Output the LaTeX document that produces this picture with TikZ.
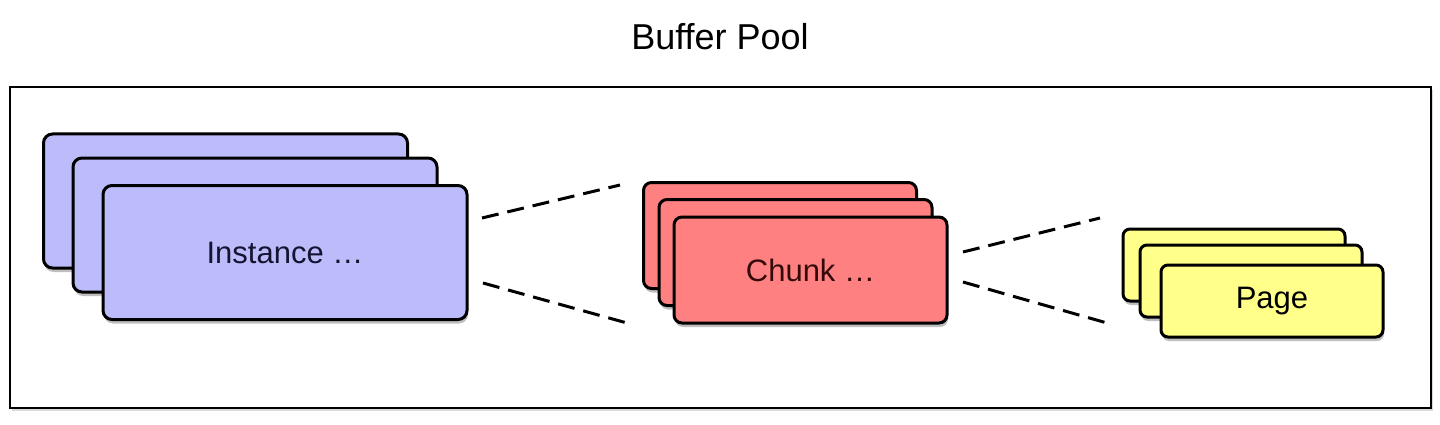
\documentclass[tikz,border=0pt]{standalone}
\usepackage{fontspec}
\setmainfont{Liberation Sans}
\usetikzlibrary{shadows}
\definecolor{instfill}{RGB}{188,188,250}
\definecolor{chunkfill}{RGB}{255,128,128}
\definecolor{pagefill}{RGB}{255,255,138}
\definecolor{insttext}{RGB}{20,20,50}
\definecolor{chunktext}{RGB}{50,10,10}
\tikzset{
  card/.style={draw=black, line width=3pt, rounded corners=9pt, inner sep=0pt,
    drop shadow={shadow xshift=1pt, shadow yshift=-4pt, opacity=0.25, fill=black}},
  instcard/.style={card, fill=instfill, minimum width=364pt, minimum height=134pt, text=insttext},
  chunkcard/.style={card, fill=chunkfill, minimum width=273pt, minimum height=106pt, text=chunktext, rounded corners=8pt},
  pagecard/.style={card, fill=pagefill, minimum width=222pt, minimum height=72pt, text=black, rounded corners=7pt},
  cardlabel/.style={font=\fontsize{31}{36}\selectfont},
  link/.style={draw=black, line width=3pt, dash pattern=on 17pt off 9pt},
  frame/.style={draw=black, line width=2.5pt, fill=white,
    drop shadow={shadow xshift=2pt, shadow yshift=-3pt, opacity=0.15, fill=black}}
}
\begin{document}
\begin{tikzpicture}[x=1pt,y=-1pt]
\useasboundingbox (0,0) rectangle (1440,425);
\node[font=\fontsize{36}{42}\selectfont] (title) at (720,37) {Buffer Pool};
\draw[frame] (10,87) rectangle (1431,408);
% Instances
\node[instcard] (inst1) at (225.5,201) {};
\node[instcard] (inst2) at (255,225) {};
\node[instcard, cardlabel] (inst3) at (285,252.5) {Instance …};
% Chunks
\node[chunkcard] (chunk1) at (780,235.5) {};
\node[chunkcard] (chunk2) at (795.5,252.5) {};
\node[chunkcard, cardlabel] (chunk3) at (810.5,270) {Chunk …};
% Pages
\node[pagecard] (page1) at (1234,265) {};
\node[pagecard] (page2) at (1251,281) {};
\node[pagecard, cardlabel] (page3) at (1272,301) {Page};
% connector ends
\coordinate (ia) at (482,218);
\coordinate (ib) at (620,185);
\coordinate (ic) at (483,283);
\coordinate (id) at (627,323);
\coordinate (ca) at (963,252);
\coordinate (cb) at (1100,218);
\coordinate (cc) at (963,282);
\coordinate (cd) at (1107,323);
\draw[link] (ia) -- (ib);
\draw[link] (ic) -- (id);
\draw[link] (ca) -- (cb);
\draw[link] (cc) -- (cd);
\end{tikzpicture}
\end{document}
